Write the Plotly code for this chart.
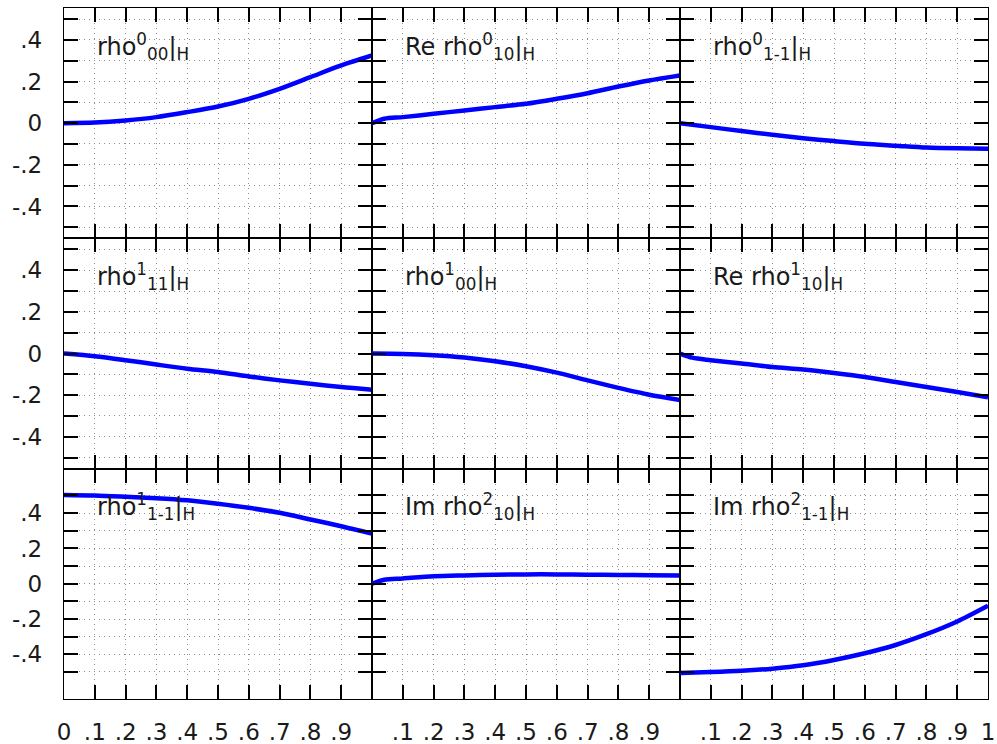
import plotly.graph_objects as go
from plotly.subplots import make_subplots

# ---- data ----
x_std = [0.0, 0.1, 0.2, 0.3, 0.4, 0.5, 0.6, 0.7, 0.8, 0.9, 1.0]
x_kink = [0.0, 0.04, 0.1, 0.2, 0.3, 0.4, 0.5, 0.6, 0.7, 0.8, 0.9, 1.0]

rho0_00 = [0.0, 0.003, 0.013, 0.029, 0.053, 0.080, 0.117, 0.165, 0.221, 0.277, 0.325]
re_rho0_10 = [0.0, 0.021, 0.029, 0.045, 0.061, 0.077, 0.093, 0.117, 0.144, 0.176, 0.205, 0.229]
rho0_1m1 = [0.0, -0.019, -0.038, -0.056, -0.072, -0.086, -0.099, -0.108, -0.117, -0.121, -0.123]

rho1_11 = [0.0, -0.013, -0.032, -0.053, -0.073, -0.089, -0.110, -0.129, -0.145, -0.161, -0.174]
rho1_00 = [0.0, -0.002, -0.008, -0.019, -0.037, -0.061, -0.092, -0.129, -0.165, -0.198, -0.223]
re_rho1_10 = [0.0, -0.020, -0.032, -0.048, -0.065, -0.077, -0.094, -0.113, -0.137, -0.161, -0.185, -0.210]

rho1_1m1 = [0.503, 0.500, 0.493, 0.485, 0.473, 0.453, 0.430, 0.402, 0.364, 0.326, 0.284]
im_rho2_10 = [0.0, 0.023, 0.030, 0.042, 0.047, 0.051, 0.053, 0.053, 0.051, 0.050, 0.048, 0.047]
im_rho2_1m1 = [-0.505, -0.500, -0.493, -0.481, -0.462, -0.432, -0.394, -0.347, -0.286, -0.214, -0.125]

panel_x = [x_std, x_kink, x_std, x_std, x_std, x_kink, x_std, x_kink, x_std]
panel_y = [rho0_00, re_rho0_10, rho0_1m1, rho1_11, rho1_00, re_rho1_10, rho1_1m1, im_rho2_10, im_rho2_1m1]
panel_labels = [
    "rho<sup>0</sup><sub>00</sub>|<sub>H</sub>",
    "Re rho<sup>0</sup><sub>10</sub>|<sub>H</sub>",
    "rho<sup>0</sup><sub>1-1</sub>|<sub>H</sub>",
    "rho<sup>1</sup><sub>11</sub>|<sub>H</sub>",
    "rho<sup>1</sup><sub>00</sub>|<sub>H</sub>",
    "Re rho<sup>1</sup><sub>10</sub>|<sub>H</sub>",
    "rho<sup>1</sup><sub>1-1</sub>|<sub>H</sub>",
    "Im rho<sup>2</sup><sub>10</sub>|<sub>H</sub>",
    "Im rho<sup>2</sup><sub>1-1</sub>|<sub>H</sub>",
]

x_tickvals = [0.0, 0.1, 0.2, 0.3, 0.4, 0.5, 0.6, 0.7, 0.8, 0.9, 1.0]
x_ticktext_cols = [
    ["0", ".1", ".2", ".3", ".4", ".5", ".6", ".7", ".8", ".9", ""],
    ["", ".1", ".2", ".3", ".4", ".5", ".6", ".7", ".8", ".9", ""],
    ["", ".1", ".2", ".3", ".4", ".5", ".6", ".7", ".8", ".9", "1"],
]
y_tickvals = [-0.5, -0.4, -0.3, -0.2, -0.1, 0.0, 0.1, 0.2, 0.3, 0.4, 0.5]
y_ticktext = ["", "-.4", "", "-.2", "", "0", "", ".2", "", ".4", ""]
row_yranges = [[-0.553, 0.553], [-0.553, 0.553], [-0.653, 0.652]]

FONT = "DejaVu Sans"
TXT = "#1a1a1a"

fig = make_subplots(rows=3, cols=3, horizontal_spacing=0, vertical_spacing=0)

for i in range(9):
    r, c = i // 3 + 1, i % 3 + 1
    fig.add_trace(
        go.Scatter(
            x=panel_x[i], y=panel_y[i], mode="lines",
            line=dict(color="#0000ff", width=4.5, shape="spline", smoothing=0.8),
            showlegend=False, hoverinfo="skip",
        ),
        row=r, col=c,
    )
    fig.update_xaxes(
        range=[0, 1], tickmode="array", tickvals=x_tickvals,
        ticktext=x_ticktext_cols[c - 1], showticklabels=(r == 3),
        ticks="inside", ticklen=14, tickwidth=1.5, tickcolor="black",
        showline=True, linecolor="black", linewidth=1.3, mirror="ticks",
        showgrid=True, gridcolor="#8c8c8c", gridwidth=1, griddash="1px,4px",
        zeroline=False, ticklabelstandoff=12, automargin=False,
        tickfont=dict(family=FONT, size=23, color=TXT),
        row=r, col=c,
    )
    fig.update_yaxes(
        range=row_yranges[r - 1], tickmode="array", tickvals=y_tickvals,
        ticktext=y_ticktext, showticklabels=(c == 1),
        ticks="inside", ticklen=14, tickwidth=1.5, tickcolor="black",
        showline=True, linecolor="black", linewidth=1.3, mirror="ticks",
        showgrid=True, gridcolor="#8c8c8c", gridwidth=1, griddash="1px,4px",
        zeroline=False, ticklabelstandoff=16, automargin=False,
        tickfont=dict(family=FONT, size=23, color=TXT),
        row=r, col=c,
    )
    xa = "x" if i == 0 else f"x{i+1}"
    ya = "y" if i == 0 else f"y{i+1}"
    fig.add_annotation(
        x=0.1, y=0.835, xref=f"{xa} domain", yref=f"{ya} domain",
        text=panel_labels[i], showarrow=False, xanchor="left", yanchor="middle",
        font=dict(family=FONT, size=24, color=TXT),
    )

fig.update_layout(
    width=997, height=744,
    margin=dict(l=64, r=9, t=8, b=45),
    paper_bgcolor="white", plot_bgcolor="white",
    font=dict(family=FONT, color=TXT),
)

fig.write_html("out.html")
